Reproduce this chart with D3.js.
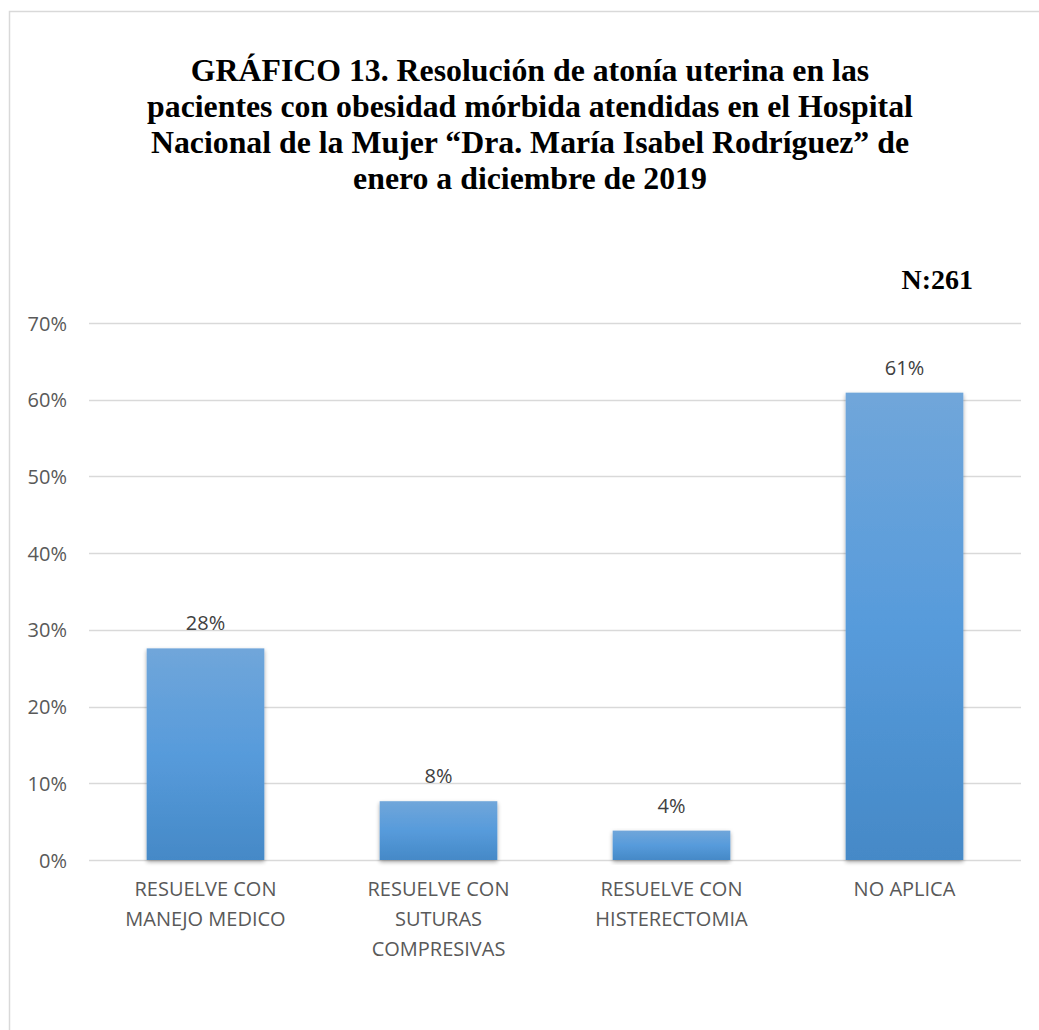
<!DOCTYPE html>
<html>
<head>
<meta charset="utf-8">
<script src="https://cdn.jsdelivr.net/npm/d3@7"></script>
<style>
  html, body { margin: 0; padding: 0; background: #fff; }
  svg { display: block; }
</style>
</head>
<body>
<svg id="chart" width="1039" height="1030"></svg>
<script>
// Patients with morbid obesity, by how uterine atony was resolved (N = 261)
const categories = [
  ["RESUELVE CON", "MANEJO MEDICO"],
  ["RESUELVE CON", "SUTURAS", "COMPRESIVAS"],
  ["RESUELVE CON", "HISTERECTOMIA"],
  ["NO APLICA"]
];
const counts = [72, 20, 10, 159];
const total = 261;
const yTicks = [0, 0.1, 0.2, 0.3, 0.4, 0.5, 0.6, 0.7];
const titleLines = [
  "GRÁFICO 13. Resolución de atonía uterina en las",
  "pacientes con obesidad mórbida atendidas en el Hospital",
  "Nacional de la Mujer “Dra. María Isabel Rodríguez” de",
  "enero a diciembre de 2019"
];
const sampleLabel = "N:" + total;

const shares = counts.map(c => c / total);

const svg = d3.select("#chart");
const W = 1039, H = 1030;

// outer frame
svg.append("rect")
  .attr("x", 9.5).attr("y", 11.5)
  .attr("width", W + 20).attr("height", H + 20)
  .attr("fill", "#fff").attr("stroke", "#d9d9d9").attr("stroke-width", 1.5);

const defs = svg.append("defs");
const grad = defs.append("linearGradient")
  .attr("id", "barFill").attr("x1", 0).attr("y1", 0).attr("x2", 0).attr("y2", 1);
grad.append("stop").attr("offset", "0%").attr("stop-color", "#70a6da");
grad.append("stop").attr("offset", "50%").attr("stop-color", "#579bdb");
grad.append("stop").attr("offset", "100%").attr("stop-color", "#4589c7");

const shadow = defs.append("filter").attr("id", "barShadow")
  .attr("x", "-20%").attr("y", "-10%").attr("width", "140%").attr("height", "125%");
shadow.append("feGaussianBlur").attr("in", "SourceAlpha").attr("stdDeviation", 2.2).attr("result", "b");
shadow.append("feOffset").attr("in", "b").attr("dx", 0).attr("dy", 1.5).attr("result", "o");
shadow.append("feComponentTransfer").attr("in", "o").attr("result", "s")
  .append("feFuncA").attr("type", "linear").attr("slope", 0.35);
const merge = shadow.append("feMerge");
merge.append("feMergeNode").attr("in", "s");
merge.append("feMergeNode").attr("in", "SourceGraphic");

// title
const title = svg.append("text")
  .attr("text-anchor", "middle")
  .attr("font-family", "'Liberation Serif', 'Times New Roman', serif")
  .attr("font-weight", "bold")
  .attr("font-size", 31.8)
  .attr("fill", "#000");
titleLines.forEach((line, i) => {
  title.append("tspan").attr("x", 530).attr("y", 81 + i * 36).text(line);
});

svg.append("text")
  .attr("x", 973).attr("y", 289)
  .attr("text-anchor", "end")
  .attr("font-family", "'Liberation Serif', 'Times New Roman', serif")
  .attr("font-weight", "bold")
  .attr("font-size", 28)
  .attr("fill", "#000")
  .text(sampleLabel);

// plot area
const plotLeft = 89, plotRight = 1021, plotTop = 323, plotBottom = 860;

const x = d3.scaleBand()
  .domain(d3.range(categories.length))
  .range([plotLeft, plotRight])
  .padding(0);

const y = d3.scaleLinear().domain([0, 0.7]).range([plotBottom, plotTop]);

const fontSans = "'Open Sans', 'Noto Sans', 'Liberation Sans', sans-serif";
const sansSize = 20;

// gridlines
svg.append("g").selectAll("line")
  .data(yTicks)
  .join("line")
  .attr("x1", plotLeft).attr("x2", plotRight)
  .attr("y1", d => Math.round(y(d)) + 0.5).attr("y2", d => Math.round(y(d)) + 0.5)
  .attr("stroke", "#d9d9d9").attr("stroke-width", 1.5);

// y axis labels
const yAxis = d3.axisLeft(y).tickValues(yTicks).tickFormat(d3.format(".0%")).tickSize(0).tickPadding(0);
const yg = svg.append("g").attr("transform", `translate(${plotLeft - 22},0)`).call(yAxis);
yg.select(".domain").remove();
yg.selectAll("text")
  .attr("font-family", fontSans).attr("font-size", sansSize).attr("fill", "#595959")
  .attr("dy", "0.35em");

// bars
const barW = x.bandwidth() * 0.505;
svg.append("g").selectAll("rect")
  .data(shares)
  .join("rect")
  .attr("x", (d, i) => x(i) + (x.bandwidth() - barW) / 2)
  .attr("y", d => y(d))
  .attr("width", barW)
  .attr("height", d => y(0) - y(d))
  .attr("fill", "url(#barFill)")
  .attr("filter", "url(#barShadow)");

// value labels
svg.append("g").selectAll("text")
  .data(shares)
  .join("text")
  .attr("x", (d, i) => x(i) + x.bandwidth() / 2)
  .attr("y", d => y(d) - 18)
  .attr("text-anchor", "middle")
  .attr("font-family", fontSans).attr("font-size", sansSize).attr("fill", "#404040")
  .text(d => d3.format(".0%")(d));

// category labels
const cg = svg.append("g");
categories.forEach((lines, i) => {
  const t = cg.append("text")
    .attr("text-anchor", "middle")
    .attr("font-family", fontSans).attr("font-size", sansSize).attr("fill", "#595959");
  lines.forEach((ln, j) => {
    t.append("tspan").attr("x", x(i) + x.bandwidth() / 2).attr("y", 896 + j * 30).text(ln);
  });
});
</script>
</body>
</html>
